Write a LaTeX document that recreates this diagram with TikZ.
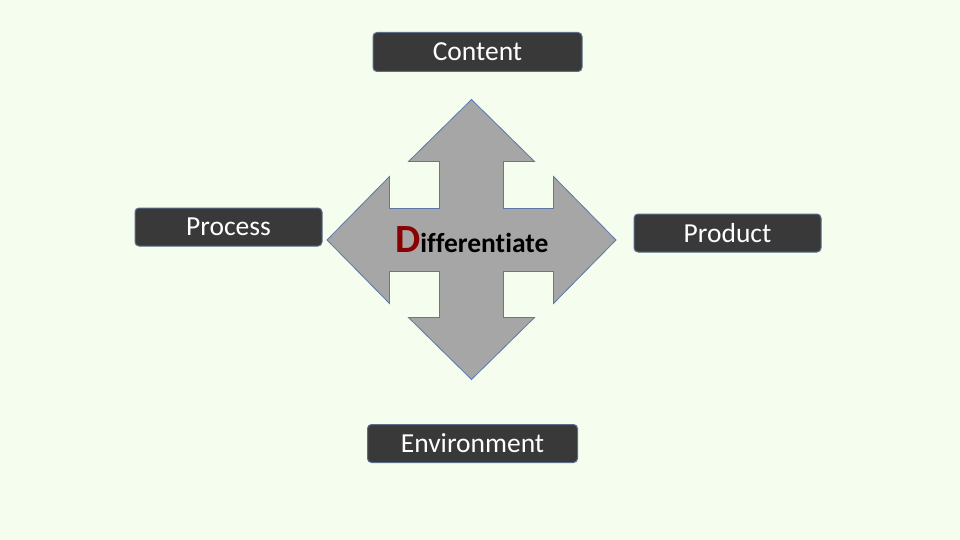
\documentclass[tikz,border=0pt]{standalone}
\usepackage{fontspec}
\setmainfont[Ligatures=NoCommon]{Carlito}
\definecolor{bg}{HTML}{F4FDEE}
\definecolor{boxfill}{HTML}{3A3939}
\definecolor{boxline}{HTML}{5A6E8C}
\definecolor{crossfill}{HTML}{A6A6A6}
\definecolor{crossline}{HTML}{5B78A8}
\definecolor{dred}{HTML}{8B0000}
\begin{document}
\begin{tikzpicture}[x=1pt,y=-1pt,
  label box/.style={draw=boxline, line width=1pt, fill=boxfill, rounded corners=4pt,
    text=white, font=\fontsize{27.5}{32}\selectfont, inner sep=0pt, anchor=north west}]
\fill[bg] (0,0) rectangle (960,540);
\useasboundingbox (0,0) rectangle (960,540);
% cross arrow
\draw[crossline, fill=crossfill, line width=0.8pt, line join=miter]
  (471.5,99.5) -- (534.5,161.5) -- (503.5,161.5) -- (503.5,208.5) -- (553.5,208.5) -- (553.5,176.5)
  -- (616,240) -- (553.5,303.5) -- (553.5,271.5) -- (503.5,271.5) -- (503.5,317.5) -- (534.5,317.5)
  -- (471.5,379.5) -- (408.5,317.5) -- (439.5,317.5) -- (439.5,271.5) -- (389.5,271.5) -- (389.5,303.5)
  -- (327,240) -- (389.5,176.5) -- (389.5,208.5) -- (439.5,208.5) -- (439.5,161.5) -- (408.5,161.5) -- cycle;
\node[anchor=base west, inner sep=0pt] (diff) at (395,252)
  {\textbf{\textcolor{dred}{\fontsize{40}{44}\selectfont D}\fontsize{27.5}{32}\selectfont ifferentiate}};
% boxes
\node[label box, minimum width=209pt, minimum height=39pt] (content) at (372.5,32) {Content};
\node[label box, minimum width=187pt, minimum height=38pt] (process) at (134.5,207.5) {Process};
\node[label box, minimum width=187pt, minimum height=38pt] (product) at (633.5,213.5) {Product};
\node[label box, minimum width=210pt, minimum height=38pt] (env) at (367,424) {Environment};
\end{tikzpicture}
\end{document}
